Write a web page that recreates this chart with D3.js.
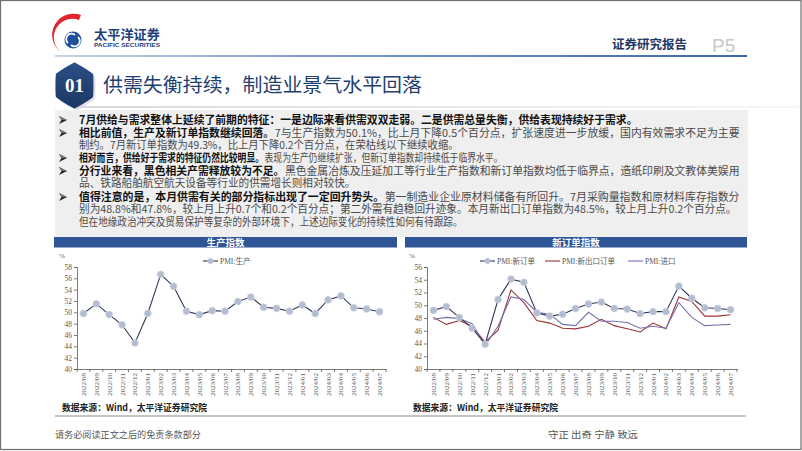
<!DOCTYPE html>
<html><head><meta charset="utf-8">
<script src="https://cdn.jsdelivr.net/npm/d3@7"></script>
<style>
html,body{margin:0;padding:0;background:#fff;}
svg{display:block;}
</style></head>
<body>
<script>
const months = ["2022/08","2022/09","2022/10","2022/11","2022/12","2023/01","2023/02","2023/03","2023/04","2023/05","2023/06","2023/07","2023/08","2023/09","2023/10","2023/11","2023/12","2024/01","2024/02","2024/03","2024/04","2024/05","2024/06","2024/07"];
const production = [49.8,51.5,49.6,47.8,44.6,49.8,56.7,54.6,50.2,49.6,50.3,50.2,51.9,52.7,50.9,50.7,50.2,51.3,49.8,52.2,52.9,50.8,50.6,50.1];
const newOrders = [49.2,49.8,48.1,46.4,43.9,50.9,54.1,53.6,48.8,48.3,48.6,49.5,50.2,50.5,49.5,49.4,48.7,49.0,49.0,53.0,51.1,49.6,49.5,49.3];
const exportOrders = [48.1,47.0,47.6,46.7,44.2,46.1,52.4,50.4,47.6,47.2,46.4,46.3,46.7,47.8,46.8,46.3,45.8,47.2,46.3,51.3,50.6,48.3,48.3,48.5];
const imports = [47.8,48.1,47.9,47.1,43.7,46.7,51.3,50.9,48.9,48.6,47.0,46.8,48.9,47.5,47.5,47.3,46.4,46.7,46.4,50.4,48.1,46.8,46.9,47.0];
const yTicksLeft = [40,42,44,46,48,50,52,54,56,58];
const yTicksRight = [40,42,44,46,48,50,52,54,56];
const seriesNames = ["PMI:生产","PMI:新订单","PMI:新出口订单","PMI:进口"];

const W = 802, H = 451;
const svg = d3.select("body").append("svg").attr("width", W).attr("height", H);
const defs = svg.append("defs");
const g1 = defs.append("linearGradient").attr("id","hdrLine").attr("x1","0").attr("x2","1");
g1.append("stop").attr("offset","0").attr("stop-color","#c9d5ea");
g1.append("stop").attr("offset","0.35").attr("stop-color","#7f9dcb");
g1.append("stop").attr("offset","1").attr("stop-color","#3d68ab");
const g2 = defs.append("linearGradient").attr("id","ttlLine").attr("x1","0").attr("x2","1");
g2.append("stop").attr("offset","0").attr("stop-color","#d9d9d9");
g2.append("stop").attr("offset","1").attr("stop-color","#f7f7f7");
const g3 = defs.append("linearGradient").attr("id","hexFill").attr("x1","0").attr("y1","0").attr("x2","0").attr("y2","1");
g3.append("stop").attr("offset","0").attr("stop-color","#2c4f86");
g3.append("stop").attr("offset","1").attr("stop-color","#1b3764");

svg.append("rect").attr("x",0).attr("y",0).attr("width",W).attr("height",H).attr("fill","#fff");

// ---------- header ----------
svg.append("path").attr("d","M81,15 A21,21 0 0 0 66,55 A17,17 0 0 1 79,20 Z").attr("fill","#e0262c");
svg.append("circle").attr("cx",73).attr("cy",40).attr("r",8.5).attr("fill","#1d4f9c");
svg.append("path").attr("d","M68,43 A5,5 0 0 1 75,35 M78,37 A5,5 0 0 1 71,45").attr("fill","none").attr("stroke","#fff").attr("stroke-width",1.8);
svg.append("text").attr("x",94).attr("y",39).text("太平洋证券")
  .attr("font-family","Noto Sans CJK SC").attr("font-weight",700).attr("font-size",13).attr("fill","#1e3f7c")
  .attr("textLength",66).attr("lengthAdjust","spacingAndGlyphs");
svg.append("text").attr("x",94).attr("y",46.5).text("PACIFIC SECURITIES")
  .attr("font-family","Liberation Sans").attr("font-weight",700).attr("font-size",5.5).attr("fill","#1e3f7c")
  .attr("textLength",66).attr("lengthAdjust","spacingAndGlyphs");
svg.append("rect").attr("x",55).attr("y",55).attr("width",692).attr("height",2).attr("fill","url(#hdrLine)");
svg.append("text").attr("x",612).attr("y",49).text("证券研究报告")
  .attr("font-family","Noto Sans CJK SC").attr("font-weight",700).attr("font-size",12.5).attr("fill","#1f3864")
  .attr("textLength",75).attr("lengthAdjust","spacingAndGlyphs");
svg.append("text").attr("x",712).attr("y",52).text("P5")
  .attr("font-family","Liberation Sans").attr("font-size",19).attr("fill","#c8c8c8");

// ---------- title ----------
svg.append("rect").attr("x",75).attr("y",106).attr("width",725).attr("height",2).attr("fill","url(#ttlLine)");
const hx = 74.5, hy = 85.5, hr = 23;
const hexPts = d3.range(6).map(i => { const a = Math.PI/2 + i*Math.PI/3; return [hx + hr*0.93*Math.cos(a), hy + hr*Math.sin(a)]; });
svg.append("path").attr("d", d3.line().curve(d3.curveCardinalClosed.tension(0.8))(hexPts))
  .attr("fill","#c9ced8").attr("transform","translate(2,2)").attr("opacity",0.6);
svg.append("path").attr("d", d3.line().curve(d3.curveCardinalClosed.tension(0.8))(hexPts)).attr("fill","url(#hexFill)");
svg.append("text").attr("x",hx).attr("y",hy+6.5).attr("text-anchor","middle").text("01")
  .attr("font-family","Liberation Serif").attr("font-weight",700).attr("font-size",19).attr("fill","#fff");
svg.append("text").attr("x",103).attr("y",92).text("供需失衡持续，制造业景气水平回落")
  .attr("font-family","Noto Sans CJK SC").attr("font-size",19.5).attr("fill","#1f3f70")
  .attr("textLength",319).attr("lengthAdjust","spacingAndGlyphs");

// ---------- text block ----------
svg.append("rect").attr("x",55).attr("y",110).attr("width",693).attr("height",127).attr("fill","#efefef");
const lines = [
  {y:124, arrow:true, w:559, parts:[["7月供给与需求整体上延续了前期的特征：一是边际来看供需双双走弱。二是供需总量失衡，供给表现持续好于需求。",1]]},
  {y:137, arrow:true, w:661, parts:[["相比前值，生产及新订单指数继续回落。",1],["7与生产指数为50.1%，比上月下降0.5个百分点，扩张速度进一步放缓，国内有效需求不足为主要",0]]},
  {y:149, arrow:false, w:380, parts:[["制约。7月新订单指数为49.3%，比上月下降0.2个百分点，在荣枯线以下继续收缩。",0]]},
  {y:162, arrow:true, w:424, parts:[["相对而言，供给好于需求的特征仍然比较明显。",1],["表现为生产仍继续扩张，但新订单指数却持续低于临界水平。",0]]},
  {y:175, arrow:true, w:661, parts:[["分行业来看，黑色相关产需释放较为不足。",1],["黑色金属冶炼及压延加工等行业生产指数和新订单指数均低于临界点，造纸印刷及文教体美娱用",0]]},
  {y:187, arrow:false, w:277, parts:[["品、铁路船舶航空航天设备等行业的供需增长则相对较快。",0]]},
  {y:201, arrow:true, w:661, parts:[["值得注意的是，本月供需有关的部分指标出现了一定回升势头。",1],["第一制造业企业原材料储备有所回升。7月采购量指数和原材料库存指数分",0]]},
  {y:213, arrow:false, w:658, parts:[["别为48.8%和47.8%，较上月上升0.7个和0.2个百分点；第二外需有趋稳回升迹象。本月新出口订单指数为48.5%，较上月上升0.2个百分点。",0]]},
  {y:226, arrow:false, w:384, parts:[["但在地缘政治冲突及贸易保护等复杂的外部环境下，上述边际变化的持续性如何有待跟踪。",0]]}
];
lines.forEach(l => {
  if (l.arrow) {
    const ax = 59, ay = l.y - 4;
    svg.append("path").attr("d",`M${ax},${ay-4} L${ax+8},${ay} L${ax},${ay+4} L${ax+2.5},${ay} Z`).attr("fill","#222");
    svg.append("path").attr("d",`M${ax},${ay-4} L${ax+8},${ay} L${ax+2.5},${ay} Z`).attr("fill","#777");
  }
  // each part as its own text, scaled proportionally to fill the measured line width
  const nodes = l.parts.map(p => svg.append("text").attr("y",l.y).text(p[0])
    .attr("font-family","Noto Sans CJK SC").attr("font-size",11)
    .attr("font-weight",p[1]?700:400).attr("fill",p[1]?"#111":"#4a4a4a"));
  const nat = nodes.map(n => n.node().getComputedTextLength());
  const tot = d3.sum(nat);
  const ratio = l.w / tot;
  let xc = 79;
  nodes.forEach((n,i) => {
    const w = nat[i]*ratio;
    n.attr("x",xc).attr("textLength",w - 0.5).attr("lengthAdjust","spacingAndGlyphs");
    xc += w;
  });
});

// ---------- chart panels ----------
function panelTitle(x0, x1, label) {
  svg.append("rect").attr("x",x0).attr("y",237).attr("width",x1-x0).attr("height",10.5).attr("fill","#2f5597");
  svg.append("text").attr("x",(x0+x1)/2).attr("y",245.5).attr("text-anchor","middle").text(label)
    .attr("font-family","Noto Sans CJK SC").attr("font-weight",700).attr("font-size",9.5).attr("fill","#fff");
}
panelTitle(54, 397, "生产指数");
panelTitle(405, 747, "新订单指数");

function drawChart(opts) {
  const x = d3.scaleBand().domain(months).range(opts.xr).paddingInner(0).paddingOuter(0);
  const y = d3.scaleLinear().domain(opts.yd).range([369, 267]);
  const g = svg.append("g");
  const ya = g.append("g").attr("transform",`translate(${opts.xr[0]},0)`)
    .call(d3.axisLeft(y).tickValues(opts.yTicks).tickSize(3).tickPadding(2).tickFormat(d3.format("d")));
  ya.select(".domain").attr("stroke","#595959").attr("stroke-width",0.8);
  ya.selectAll(".tick line").attr("stroke","#595959").attr("stroke-width",0.8);
  ya.selectAll("text").attr("font-family","Liberation Serif").attr("font-size",7.5).attr("fill","#595959");
  const xa = g.append("g").attr("transform","translate(0,369)")
    .call(d3.axisBottom(x).tickSize(0).tickPadding(0));
  xa.select(".domain").attr("stroke","#595959").attr("stroke-width",0.8);
  xa.selectAll(".tick text").attr("font-family","Liberation Serif").attr("font-size",7).attr("fill","#595959")
    .attr("text-anchor","end").attr("dy",null)
    .attr("transform","translate(2.5,4) rotate(-90)").attr("y",0).attr("x",0);
  g.selectAll(".bt").data(d3.range(months.length+1)).enter().append("line")
    .attr("x1",i=>opts.xr[0]+i*x.step()).attr("x2",i=>opts.xr[0]+i*x.step())
    .attr("y1",369).attr("y2",372).attr("stroke","#595959").attr("stroke-width",0.8);
  g.append("text").attr("x",opts.xr[0]-18).attr("y",258).text("%")
    .attr("font-family","Liberation Serif").attr("font-size",7).attr("fill","#595959");
  const cx = d => x(d) + x.bandwidth()/2;
  opts.series.forEach(s => {
    const line = d3.line().x((d,i)=>cx(months[i])).y(d=>y(d));
    g.append("path").datum(s.values).attr("d",line).attr("fill","none")
      .attr("stroke",s.color).attr("stroke-width",1.1);
  });
  opts.series.forEach(s => {
    if (!s.marker) return;
    g.selectAll(null).data(s.values).enter().append("circle")
      .attr("cx",(d,i)=>cx(months[i])).attr("cy",d=>y(d)).attr("r",3.4)
      .attr("fill","#b3bdd1").attr("stroke","#c9d0de").attr("stroke-width",0.8);
  });
  opts.legend.forEach(l => {
    const s = opts.series[l.i];
    g.append("line").attr("x1",l.x).attr("x2",l.x+15).attr("y1",261).attr("y2",261)
      .attr("stroke",s.color).attr("stroke-width",1.1);
    if (s.marker) g.append("circle").attr("cx",l.x+7.5).attr("cy",261).attr("r",2.8)
      .attr("fill","#b3bdd1").attr("stroke","#c9d0de").attr("stroke-width",0.6);
    g.append("text").attr("x",l.x+17).attr("y",263.5).text(s.name)
      .attr("font-family","Liberation Serif, Noto Sans CJK SC").attr("font-size",7.5).attr("fill","#595959");
  });
  g.append("text").attr("x",opts.srcX).attr("y",411).text("数据来源：Wind，太平洋证券研究院")
    .attr("font-family","Noto Sans CJK SC").attr("font-weight",700).attr("font-size",9).attr("fill","#222")
    .attr("textLength",145).attr("lengthAdjust","spacingAndGlyphs");
}

drawChart({
  xr:[77,386], yd:[40,58], yTicks:yTicksLeft, srcX:62,
  series:[{name:seriesNames[0], values:production, color:"#33395a", marker:true}],
  legend:[{i:0, x:203}]
});
drawChart({
  xr:[427,737], yd:[40,56], yTicks:yTicksRight, srcX:413,
  series:[
    {name:seriesNames[2], values:exportOrders, color:"#9a3333", marker:false},
    {name:seriesNames[3], values:imports, color:"#7272b0", marker:false},
    {name:seriesNames[1], values:newOrders, color:"#2f3558", marker:true}
  ],
  legend:[{i:2, x:480},{i:0, x:545},{i:1, x:628}]
});

// ---------- footer ----------
svg.append("rect").attr("x",55).attr("y",415).attr("width",691).attr("height",2).attr("fill","#c4c4c4");
svg.append("text").attr("x",55).attr("y",438).text("请务必阅读正文之后的免责条款部分")
  .attr("font-family","Noto Sans CJK SC").attr("font-size",9).attr("fill","#555")
  .attr("textLength",146).attr("lengthAdjust","spacingAndGlyphs");
svg.append("text").attr("x",548).attr("y",438).text("守正 出奇 宁静 致远")
  .attr("font-family","Noto Sans CJK SC").attr("font-size",9).attr("fill","#555")
  .attr("textLength",90).attr("lengthAdjust","spacingAndGlyphs");

svg.append("rect").attr("x",0.5).attr("y",0.5).attr("width",800.5).attr("height",449).attr("fill","none").attr("stroke","#6e6e6e").attr("stroke-width",1.2);
</script>
</body></html>
